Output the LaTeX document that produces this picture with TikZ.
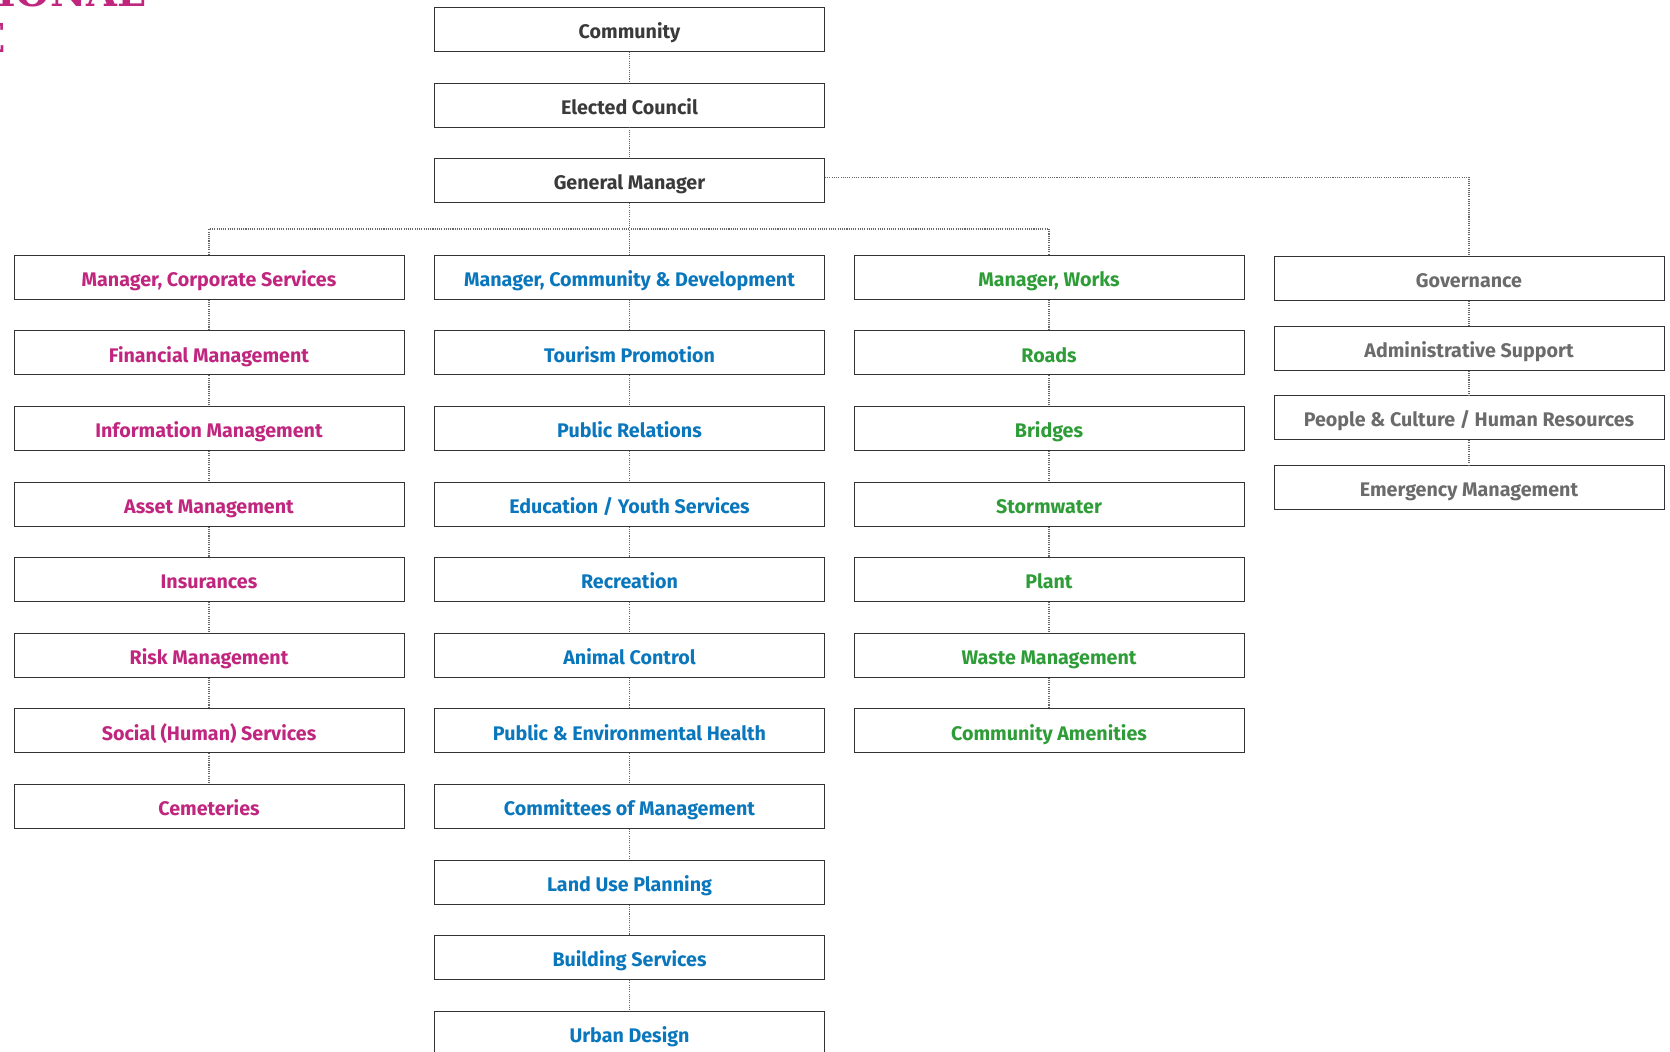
\documentclass[tikz,border=0pt]{standalone}
\usepackage{fontspec}
\setmainfont{Fira Sans}
\newfontfamily\titlefont{DejaVu Serif}
\usetikzlibrary{positioning}
\definecolor{corp}{HTML}{C1267F}
\definecolor{devt}{HTML}{0A77BD}
\definecolor{works}{HTML}{2E9D38}
\definecolor{govn}{HTML}{6B6B6B}
\definecolor{head}{HTML}{3A3A3A}

\begin{document}
\begin{tikzpicture}[x=0.3mm, y=-0.3mm,
  box/.style={draw=black!80, line width=0.75pt, minimum width=117mm,
    minimum height=13.2mm, inner sep=0pt, text height=16pt, text depth=0.4pt,
    font=\fontsize{16.8}{19}\selectfont\bfseries},
  link/.style={densely dotted, black!60, line width=0.9pt}]
  \useasboundingbox (0,0) rectangle (1670,1051);

  % cut-off page title
  \begin{scope}
    \clip (0,0) rectangle (1670,1051);
    \node[anchor=base east, inner sep=0pt, text=corp,
      font=\titlefont\bfseries\fontsize{34}{40}\selectfont] (ttla) at (146,6) {IONAL};
    \node[anchor=base east, inner sep=0pt, text=corp,
      font=\titlefont\bfseries\fontsize{34}{40}\selectfont] (ttlb) at (6,52) {E};
  \end{scope}

  % top of the chart
  \node[box, text=head] (comm)    at (629.5,29.3)  {Community};
  \node[box, text=head] (council) at (629.5,105)   {Elected Council};
  \node[box, text=head] (gm)      at (629.5,180.5) {General Manager};
  \coordinate (bus) at (0,229);

  % corporate services
  \node[box, text=corp] (cs)     at (209,277.3) {Manager, Corporate Services};
  \node[box, text=corp] (fin)    at (209,352.9) {Financial Management};
  \node[box, text=corp] (info)   at (209,428.5) {Information Management};
  \node[box, text=corp] (asset)  at (209,504.1) {Asset Management};
  \node[box, text=corp] (ins)    at (209,579.7) {Insurances};
  \node[box, text=corp] (risk)   at (209,655.3) {Risk Management};
  \node[box, text=corp] (social) at (209,730.9) {Social (Human) Services};
  \node[box, text=corp] (cem)    at (209,806.5) {Cemeteries};

  % community & development
  \node[box, text=devt] (cd)     at (629.5,277.3)  {Manager, Community \& Development};
  \node[box, text=devt] (tour)   at (629.5,352.9)  {Tourism Promotion};
  \node[box, text=devt] (pr)     at (629.5,428.5)  {Public Relations};
  \node[box, text=devt] (edu)    at (629.5,504.1)  {Education / Youth Services};
  \node[box, text=devt] (rec)    at (629.5,579.7)  {Recreation};
  \node[box, text=devt] (animal) at (629.5,655.3)  {Animal Control};
  \node[box, text=devt] (health) at (629.5,730.9)  {Public \& Environmental Health};
  \node[box, text=devt] (cttee)  at (629.5,806.5)  {Committees of Management};
  \node[box, text=devt] (land)   at (629.5,882.1)  {Land Use Planning};
  \node[box, text=devt] (build)  at (629.5,957.7)  {Building Services};
  \node[box, text=devt] (urban)  at (629.5,1033.3) {Urban Design};

  % works
  \node[box, text=works] (wk)      at (1049,277.3) {Manager, Works};
  \node[box, text=works] (roads)   at (1049,352.9) {Roads};
  \node[box, text=works] (bridges) at (1049,428.5) {Bridges};
  \node[box, text=works] (storm)   at (1049,504.1) {Stormwater};
  \node[box, text=works] (plant)   at (1049,579.7) {Plant};
  \node[box, text=works] (waste)   at (1049,655.3) {Waste Management};
  \node[box, text=works] (amen)    at (1049,730.9) {Community Amenities};

  % governance
  \node[box, text=govn] (gov)    at (1469,278.5) {Governance};
  \node[box, text=govn] (admin)  at (1469,348.1) {Administrative Support};
  \node[box, text=govn] (people) at (1469,417.7) {People \& Culture / Human Resources};
  \node[box, text=govn] (emerg)  at (1469,487.3) {Emergency Management};

  % dotted links
  \draw[link] (comm.south) -- (council.north) (council.south) -- (gm.north);
  \draw[link] (gm.south) -- (cd.north);
  \draw[link] (cs.north) -- (cs.north |- bus) -- (wk.north |- bus) -- (wk.north);
  \draw[link] ([yshift=1mm]gm.east) -| (gov.north);
  \draw[link] (cs.south) -- (fin.north) (fin.south) -- (info.north)
    (info.south) -- (asset.north) (asset.south) -- (ins.north)
    (ins.south) -- (risk.north) (risk.south) -- (social.north)
    (social.south) -- (cem.north);
  \draw[link] (cd.south) -- (tour.north) (tour.south) -- (pr.north)
    (pr.south) -- (edu.north) (edu.south) -- (rec.north)
    (rec.south) -- (animal.north) (animal.south) -- (health.north)
    (health.south) -- (cttee.north) (cttee.south) -- (land.north)
    (land.south) -- (build.north) (build.south) -- (urban.north);
  \draw[link] (wk.south) -- (roads.north) (roads.south) -- (bridges.north)
    (bridges.south) -- (storm.north) (storm.south) -- (plant.north)
    (plant.south) -- (waste.north) (waste.south) -- (amen.north);
  \draw[link] (gov.south) -- (admin.north) (admin.south) -- (people.north)
    (people.south) -- (emerg.north);
\end{tikzpicture}
\end{document}
